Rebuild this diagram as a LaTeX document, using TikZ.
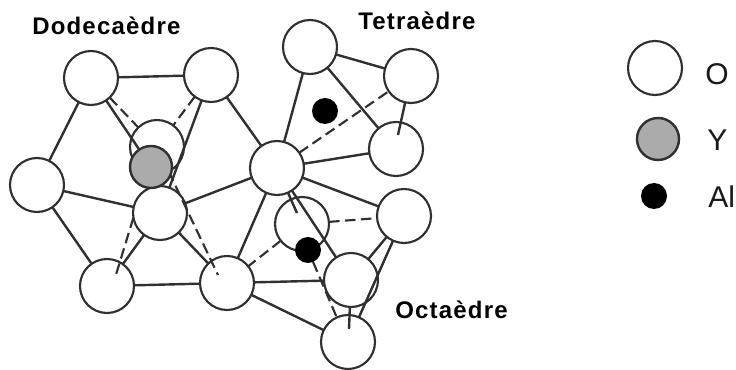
\documentclass[tikz,border=0pt]{standalone}
\usepackage{fontspec}
\setmainfont{Liberation Sans}
\newfontfamily\labfont[LetterSpace=5]{Liberation Sans Bold}
\pgfdeclarelayer{Lzero}
\pgfdeclarelayer{Lone}
\pgfdeclarelayer{Ltwo}
\pgfsetlayers{Lzero,Lone,Ltwo,main}
\definecolor{ink}{HTML}{303030}
\tikzset{
  oxy/.style={circle,draw=ink,line width=1.6pt,fill=white,minimum size=40.5pt,inner sep=0pt,outer sep=0pt},
  yat/.style={circle,draw=ink,line width=1.8pt,fill=black!33,minimum size=31.5pt,inner sep=0pt,outer sep=0pt},
  alat/.style={circle,fill=black,minimum size=19.5pt,inner sep=0pt,outer sep=0pt},
  bond/.style={draw=ink,line width=1.8pt},
  dbond/.style={draw=ink,line width=1.6pt,dash pattern=on 8pt off 4pt},
  lab/.style={font=\fontsize{18}{20}\labfont,inner sep=0pt,anchor=west,text=black},
  leg/.style={font=\fontsize{22.5}{24}\selectfont,inner sep=0pt,anchor=west,text=black!90}
}
\begin{document}
\begin{tikzpicture}[x=0.75pt,y=-0.75pt]
\useasboundingbox (0,0) rectangle (736,370);
\begin{pgfonlayer}{Lzero}
  \node[oxy] (d) at (157,147) {};
  \node[oxy] (m) at (302,224) {};
  \node[oxy] (n) at (351,280) {};
\end{pgfonlayer}
\begin{pgfonlayer}{Ltwo}
  \node[oxy] (a) at (91,78) {};
  \node[oxy] (b) at (211,75) {};
  \node[oxy] (c) at (37,185) {};
  \node[oxy] (e) at (160,213) {};
  \node[oxy] (f) at (107,286) {};
  \node[oxy] (g) at (227,283) {};
  \node[oxy] (h) at (277,168) {};
  \node[oxy] (i) at (310,47) {};
  \node[oxy] (j) at (411,76) {};
  \node[oxy] (k) at (396,149) {};
  \node[oxy] (l) at (404,216) {};
  \node[oxy] (p) at (348,342) {};
\end{pgfonlayer}
\coordinate (fs) at (115,278);
\coordinate (gs) at (218,275);
\coordinate (ks) at (398,135);
\coordinate (ms) at (297,213);
\coordinate (ps) at (349,329);
\coordinate (pd) at (337,318);
\begin{pgfonlayer}{Lone}
  \draw[bond] (a) -- (b);
  \draw[bond] (a) -- (c);
  \draw[bond] (a) -- (151,167);
  \draw[bond] (b) -- (e);
  \draw[bond] (b) -- (h);
  \draw[bond] (c) -- (e);
  \draw[bond] (c) -- (f);
  \draw[bond] (e) -- (f);
  \draw[bond] (e) -- (g);
  \draw[bond] (e) -- (h);
  \draw[bond] (f) -- (g);
  \draw[bond] (g) -- (h);
  \draw[bond] (h) -- (i);
  \draw[bond] (h) -- (k);
  \draw[bond] (h) -- (l);
  \draw[bond] (h) -- (n);
  \draw[bond] (i) -- (j);
  \draw[bond] (i) -- (k);
  \draw[bond] (g) -- (n);
  \draw[bond] (g) -- (p);
  \draw[bond] (l) -- (n);
  \draw[bond] (l) -- (p);
  \draw[dbond] (a) -- (d);
  \draw[dbond] (b) -- (d);
  \draw[dbond] (h) -- (j);
  \draw[dbond] (m) -- (l);
  \draw[dbond] (m) -- (g);
\end{pgfonlayer}
\draw[dbond] (e.190) -- (fs);
\draw[dbond] (d) -- (gs);
\draw[bond] (j) -- (ks);
\draw[bond] (h) -- (ms);
\draw[bond] (n) -- (ps);
\node[yat] (y) at (151,167) {};
\node[alat] (al1) at (325,111) {};
\node[alat] (al2) at (308,250) {};
\draw[dbond] (al2) -- (pd);
\node[oxy] (lo) at (655,68) {};
\node[yat] (ly) at (658,139) {};
\node[alat] (lal) at (654,196) {};
\node[leg] (to) at (705,74) {O};
\node[leg] (ty) at (707,140) {Y};
\node[leg] (tal) at (708,197) {Al};
\node[lab] (t1) at (32,26) {Dodecaèdre};
\node[lab] (t2) at (358,21) {Tetraèdre};
\node[lab] (t3) at (395,310) {Octaèdre};
\end{tikzpicture}
\end{document}
